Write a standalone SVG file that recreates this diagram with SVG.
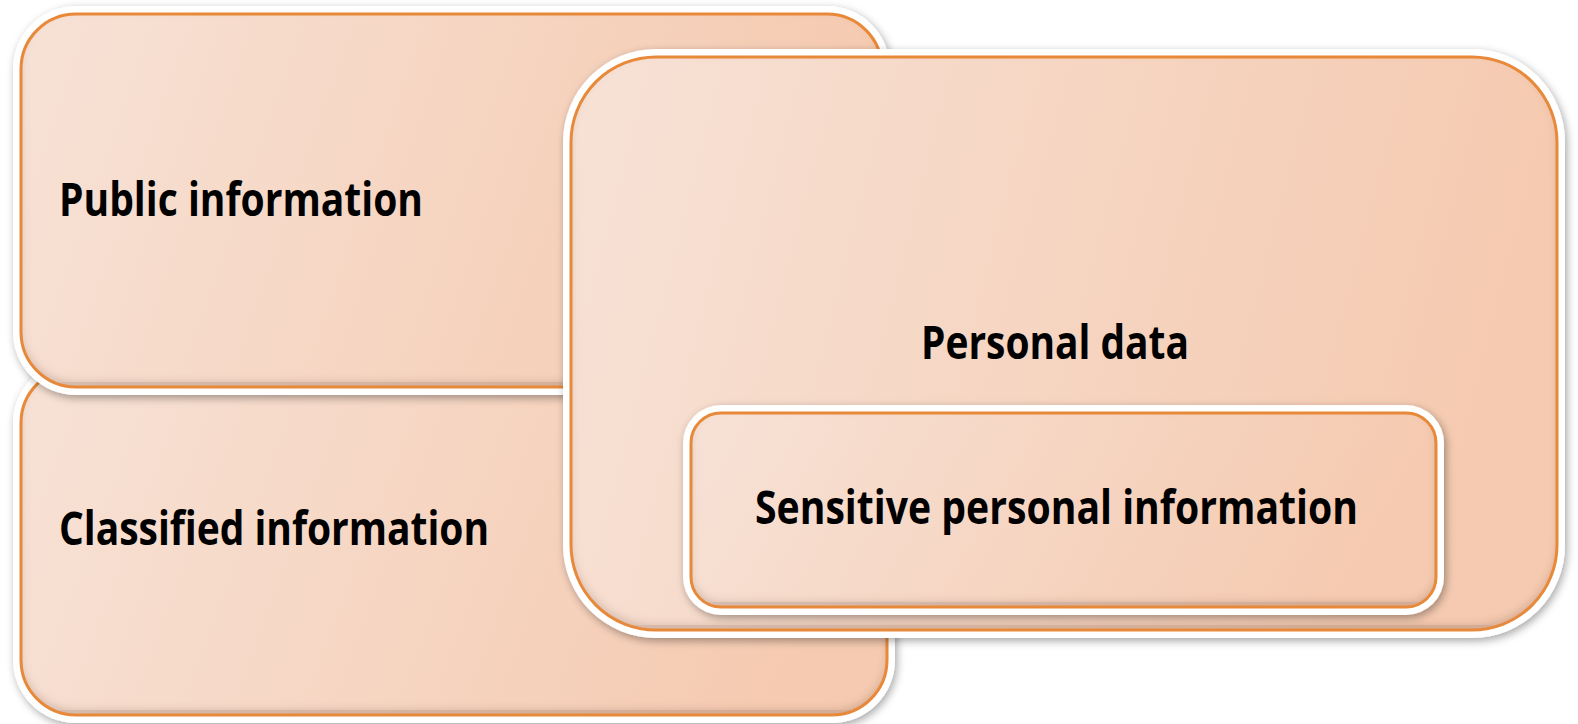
<svg xmlns="http://www.w3.org/2000/svg" width="1578" height="724" viewBox="0 0 1578 724">
  <defs>
    <linearGradient id="fillGrad" x1="0" y1="0" x2="1" y2="0.15">
      <stop offset="0" stop-color="#f7e2d6"/>
      <stop offset="1" stop-color="#f5cab0"/>
    </linearGradient>
    <filter id="drop" x="-5%" y="-5%" width="110%" height="115%">
      <feDropShadow dx="2" dy="3" stdDeviation="4" flood-color="#000" flood-opacity="0.35"/>
    </filter>
    <filter id="inner" x="0" y="0" width="100%" height="100%">
      <feGaussianBlur in="SourceAlpha" stdDeviation="4" result="b"/>
      <feOffset in="b" dy="-5" result="o"/>
      <feComposite in="SourceAlpha" in2="o" operator="out" result="edge"/>
      <feFlood flood-color="#7a4a30" flood-opacity="0.35"/>
      <feComposite in2="edge" operator="in" result="sh"/>
      <feMerge><feMergeNode in="SourceGraphic"/><feMergeNode in="sh"/></feMerge>
    </filter>
    <style>
      .outer { fill: #ffffff; filter: url(#drop); }
      .body { fill: url(#fillGrad); filter: url(#inner); }
      .edge { fill: none; stroke: #e8893a; stroke-width: 3; }
      .label { font-family: "Open Sans", "Liberation Sans", sans-serif; font-weight: 700; font-size: 46px; fill: #000000; }
    </style>
  </defs>

  <g id="classified">
    <rect class="outer" x="13" y="360" width="882" height="363" rx="63"/>
    <rect class="body" x="21" y="368" width="866" height="347" rx="55"/>
    <rect class="edge" x="21" y="368" width="866" height="347" rx="55"/>
    <text class="label" x="59" y="545" textLength="430" lengthAdjust="spacingAndGlyphs">Classified information</text>
  </g>

  <g id="public">
    <rect class="outer" x="13" y="6" width="877" height="389" rx="63"/>
    <rect class="body" x="21" y="14" width="861" height="373" rx="55"/>
    <rect class="edge" x="21" y="14" width="861" height="373" rx="55"/>
    <text class="label" x="59" y="216" textLength="364" lengthAdjust="spacingAndGlyphs">Public information</text>
  </g>

  <g id="personal">
    <rect class="outer" x="563" y="49" width="1002" height="589" rx="93"/>
    <rect class="body" x="571" y="57" width="986" height="573" rx="85"/>
    <rect class="edge" x="571" y="57" width="986" height="573" rx="85"/>
    <text class="label" x="921" y="359" textLength="268" lengthAdjust="spacingAndGlyphs">Personal data</text>
  </g>

  <g id="sensitive">
    <rect class="outer" x="683" y="405" width="761" height="210" rx="38"/>
    <rect class="body" x="691" y="413" width="745" height="194" rx="30"/>
    <rect class="edge" x="691" y="413" width="745" height="194" rx="30"/>
    <text class="label" x="755" y="524" textLength="603" lengthAdjust="spacingAndGlyphs">Sensitive personal information</text>
  </g>

  <g id="connectors"/>
</svg>
